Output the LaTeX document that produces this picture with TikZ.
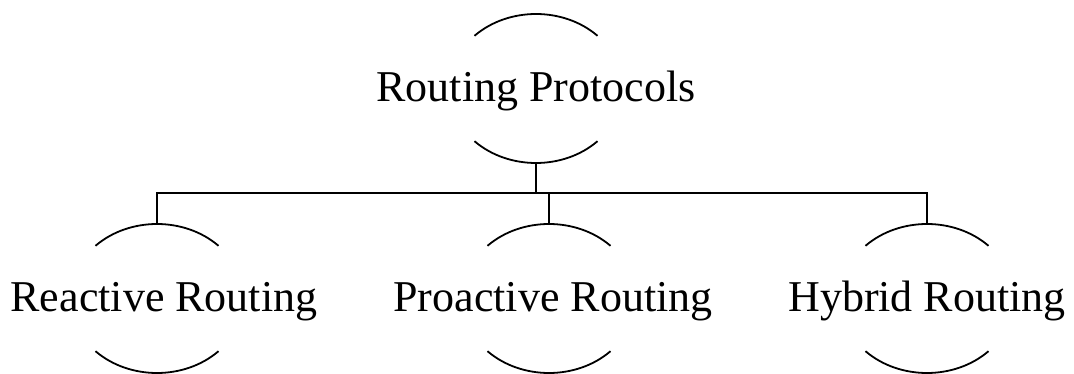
\documentclass[tikz,border=0pt]{standalone}
\usepackage{fontspec}
\setmainfont{Liberation Serif}
\usepackage{tikz}
\newcommand{\shellarcs}[1]{%
  \draw ([shift={(45:87pt and 74.5pt)}]#1.center) arc[start angle=45, end angle=135, x radius=87pt, y radius=74.5pt];
  \draw ([shift={(225:87pt and 74.5pt)}]#1.center) arc[start angle=225, end angle=315, x radius=87pt, y radius=74.5pt];}

\begin{document}
\begin{tikzpicture}[x=1pt, y=-1pt, line width=1.8pt,
    proto/.style={minimum height=149pt, inner sep=0pt, text height=30pt, text depth=3pt,
      font=\fontsize{44}{50}\selectfont}]
      \useasboundingbox (0,0) rectangle (1074,374);

      \node[proto] (root) at (536,88.5) {Routing Protocols};
      \node[proto] (reactive) at (157,298.5) {\hspace*{14pt}Reactive Routing};
      \node[proto] (proactive) at (549,298.5) {\hspace*{8pt}Proactive Routing};
      \node[proto] (hybrid) at (927,298.5) {Hybrid Routing};

      \shellarcs{root}
      \shellarcs{reactive}
      \shellarcs{proactive}
      \shellarcs{hybrid}

      \coordinate (bar) at (536,193);
      \draw (root.south) -- (root.south |- bar);
      \draw (reactive.north) -- (reactive.north |- bar) -| (hybrid.north);
      \draw (proactive.north) -- (proactive.north |- bar);
    \end{tikzpicture}
\end{document}
